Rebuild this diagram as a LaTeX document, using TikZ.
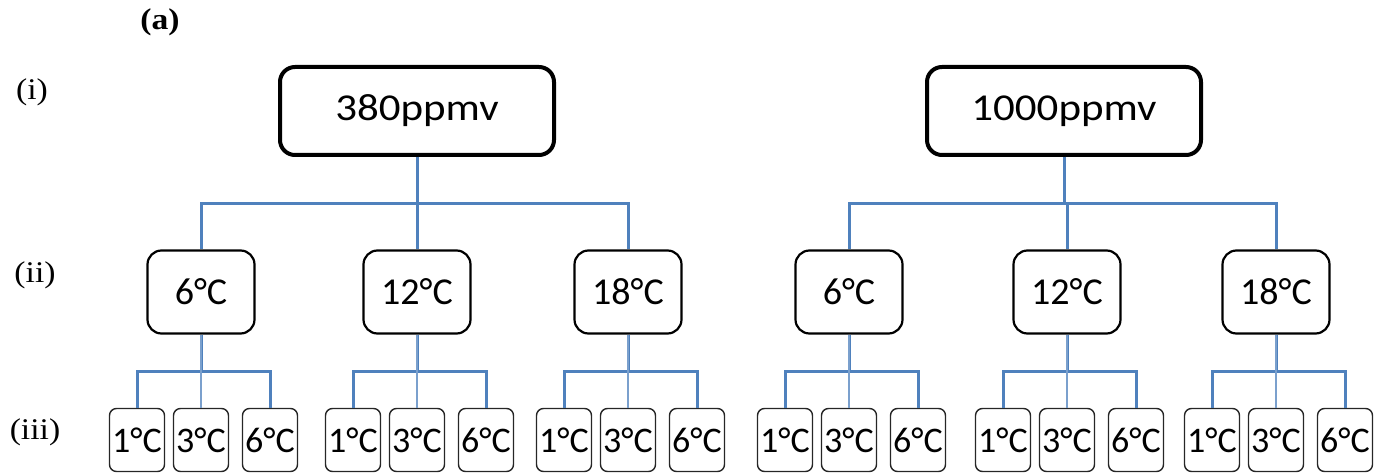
\documentclass[tikz,border=0pt]{standalone}
\usepackage{fontspec}
\setmainfont{Liberation Serif}
\newfontfamily\boxfont{Carlito}
\newfontfamily\topfont[FakeStretch=1.13]{Carlito}
\newfontfamily\labfont[FakeStretch=1.12]{Liberation Serif}
\definecolor{conblue}{RGB}{79,129,189}
\begin{document}
\begin{tikzpicture}[x=1pt,y=-1pt,
  topbox/.style={draw=black,line width=4pt,rounded corners=15pt,minimum width=274pt,minimum height=88pt,inner sep=0pt,font=\topfont\fontsize{38}{42}\selectfont},
  midbox/.style={draw=black,line width=2.2pt,rounded corners=14pt,minimum width=107pt,minimum height=83pt,inner sep=0pt,font=\boxfont\fontsize{38}{42}\selectfont},
  leafbox/.style={draw=black!85,line width=1.4pt,rounded corners=7pt,minimum width=55pt,minimum height=63pt,inner sep=0pt,font=\boxfont\fontsize{36}{40}\selectfont},
  conn/.style={draw=conblue,line width=3pt},
  thinconn/.style={draw=conblue!75,line width=1.5pt},
  lab/.style={font=\labfont\fontsize{30}{34}\selectfont,inner sep=0pt}]
\useasboundingbox (0,0) rectangle (1390,473);

\node[lab,font=\labfont\bfseries\fontsize{30}{34}\selectfont] (la) at (160,22) {(a)};
\node[lab] (li) at (32,92) {(i)};
\node[lab] (lii) at (35,275) {(ii)};
\node[lab] (liii) at (35,432) {(iii)};

% top
\node[topbox] (T1) at (417,111) {380ppmv};
\node[topbox] (T2) at (1064,111) {1000ppmv};

% middle
\foreach \n/\x/\t in {A1/201/6°C,A2/417/12°C,A3/628/18°C,B1/849/6°C,B2/1067/12°C,B3/1276/18°C}{
  \node[midbox] (\n) at (\x,292) {\t};
}

% leaves
\foreach \n/\x in {A1/201,A2/417,A3/628,B1/849,B2/1067,B3/1276}{
  \node[leafbox] (\n a) at (\x-64,440) {1°C};
  \node[leafbox] (\n b) at (\x,440) {3°C};
  \node[leafbox] (\n c) at (\x+69,440) {6°C};
}

% connectors top -> middle
\foreach \c in {A1,A2,A3}{
  \draw[conn] (T1.south) -- ++(0,47) -| (\c.north);
}
\foreach \c in {B1,B2,B3}{
  \draw[conn] (T2.south) -- ++(0,47) -| (\c.north);
}

% connectors middle -> leaves
\foreach \p in {A1,A2,A3,B1,B2,B3}{
  \draw[conn] (\p.south) -- ++(0,37) -| (\p a.north);
  \draw[conn] (\p.south) -- ++(0,37) -| (\p c.north);
  \draw[thinconn] (\p.south) -- (\p b.north);
}
\end{tikzpicture}
\end{document}
